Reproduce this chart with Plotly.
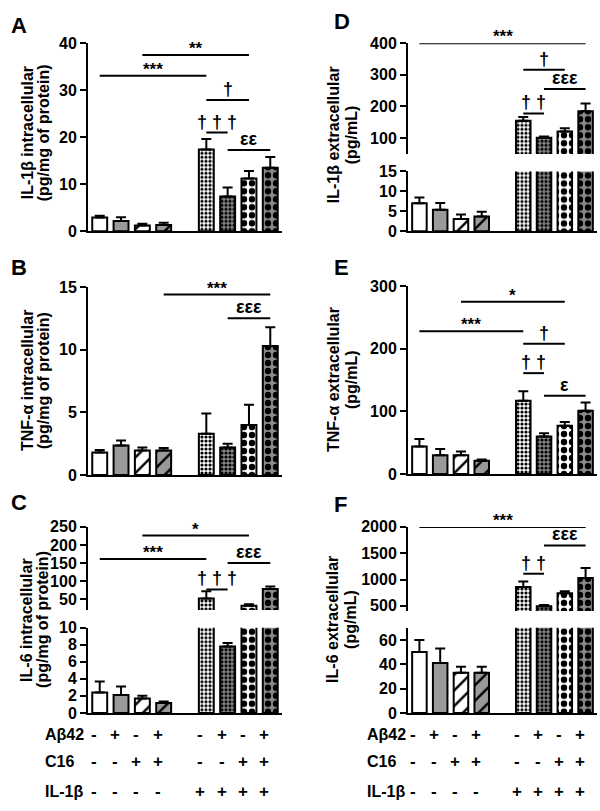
import plotly.graph_objects as go

W, H = 600, 811
FONT = "Liberation Sans, Arial, sans-serif"

# ---------------- data ----------------
positions = [0, 1, 2, 3, 5, 6, 7, 8]

A_mean = [2.9, 2.2, 1.2, 1.3, 17.4, 7.4, 11.2, 13.5]
A_err = [0.4, 0.8, 0.4, 0.5, 2.2, 1.9, 1.6, 2.3]
D_mean = [7.0, 5.4, 3.1, 3.7, 155, 101, 121, 185]
D_err = [1.5, 1.7, 1.1, 1.2, 12, 4, 10, 24]
B_mean = [1.8, 2.35, 1.95, 1.95, 3.3, 2.2, 4.0, 10.3]
B_err = [0.2, 0.4, 0.25, 0.2, 1.6, 0.3, 1.6, 1.5]
E_mean = [44, 30, 30, 21, 117, 60, 77, 101]
E_err = [12, 10, 6, 2, 15, 5, 6, 13]
C_mean = [2.4, 2.1, 1.7, 1.15, 52, 7.8, 32, 78]
C_err = [1.3, 1.0, 0.3, 0.2, 20, 0.4, 4, 7]
F_mean = [50, 41, 33, 33, 860, 490, 740, 1030]
F_err = [10, 12, 5, 5, 100, 25, 35, 190]

# significance brackets: (from bar index, to bar index, y value, label)
A_sig = [(0, 4, 33.1, "***"), (2, 6, 37.5, "**"), (4, 6, 27.9, "†"),
         (4, 5, 21.0, "† † †"), (5, 7, 17.3, "εε")]
D_sig = [(0, 7, 400, "***"), (4, 6, 316, "†"), (5, 7, 255, "εεε"), (4, 5, 178, "† †")]
B_sig = [(3, 7, 14.4, "***"), (5, 7, 12.5, "εεε")]
E_sig = [(2, 6, 275, "*"), (0, 4, 228, "***"), (4, 6, 208, "†"),
         (4, 5, 161, "† †"), (5, 7, 125, "ε")]
C_sig = [(2, 6, 226, "*"), (0, 4, 161, "***"), (5, 7, 150, "εεε"), (4, 5, 77, "† † †")]
F_sig = [(0, 7, 2000, "***"), (5, 7, 1648, "εεε"), (4, 5, 1110, "† †")]

row_labels = ["Aβ42", "C16", "IL-1β"]
Ab_signs = ["-", "+", "-", "+", "-", "+", "-", "+"]
C16_signs = ["-", "-", "+", "+", "-", "-", "+", "+"]
IL1b_signs = ["-", "-", "-", "-", "+", "+", "+", "+"]

# ---------------- styles ----------------
GRAY = "#9a9a9a"
bar_colors = ["white", GRAY, "white", GRAY, "white", "#8a8a8a", "white", "#8a8a8a"]
pat_shapes = ["", "", "/", "/", ".", ".", ".", "."]
pat_size = [8, 8, 11, 11, 4, 4, 8, 8]
pat_sol = [0.3, 0.3, 0.22, 0.22, 0.5, 0.5, 0.5, 0.5]


def fx(px):
    return px / W


def fy(py):
    return 1 - py / H


fig = go.Figure()
layout = dict(width=W, height=H, margin=dict(l=0, r=0, t=0, b=0),
              paper_bgcolor="white", plot_bgcolor="white", showlegend=False,
              barmode="overlay")
annotations = []
shapes = []
XR = [-0.55, 8.55]


def axname(n, kind):
    return kind + ("axis" if n == 1 else f"axis{n}")


def ref(n, kind):
    return kind + ("" if n == 1 else str(n))


def add_axes(n, xl, xr, ytop, ybot, yrange, tickvals, show_xline=True):
    layout[axname(n, "x")] = dict(
        domain=[fx(xl), fx(xr)], range=XR, anchor=ref(n, "y"),
        showline=show_xline, linewidth=2, linecolor="black", ticks="",
        showticklabels=False, showgrid=False, zeroline=False)
    layout[axname(n, "y")] = dict(
        domain=[fy(ybot), fy(ytop)], range=yrange, anchor=ref(n, "x"),
        showline=True, linewidth=2, linecolor="black", ticks="outside",
        ticklen=6, tickwidth=2, tickcolor="black", tickvals=tickvals,
        tickfont=dict(family=FONT, size=16, color="black", weight="bold"),
        showgrid=False, zeroline=False)


def add_bars(n, means, errs):
    for i, p in enumerate(positions):
        marker = dict(color=bar_colors[i], line=dict(color="black", width=2))
        if pat_shapes[i]:
            marker["pattern"] = dict(shape=pat_shapes[i], fgcolor="black",
                                     bgcolor=bar_colors[i], size=pat_size[i],
                                     solidity=pat_sol[i], fillmode="replace")
        fig.add_trace(go.Bar(
            x=[p], y=[means[i]], width=0.7,
            xaxis=ref(n, "x"), yaxis=ref(n, "y"), marker=marker,
            error_y=dict(type="data", symmetric=False, array=[errs[i]],
                         arrayminus=[0], color="black", thickness=2, width=5),
            showlegend=False, cliponaxis=True))


def add_sig(n, sigs):
    for i0, i1, yv, lab in sigs:
        x0, x1 = positions[i0], positions[i1]
        shapes.append(dict(type="line", xref=ref(n, "x"), yref=ref(n, "y"),
                           x0=x0, x1=x1, y0=yv, y1=yv,
                           line=dict(color="black", width=2)))
        star = lab.startswith("*")
        annotations.append(dict(
            x=(x0 + x1) / 2, y=yv, xref=ref(n, "x"), yref=ref(n, "y"),
            text=lab, showarrow=False, xanchor="center", yanchor="bottom",
            yshift=-5 if star else -1,
            font=dict(family=FONT, size=17 if star else 18, color="black",
                      weight="bold")))


def add_title(xc1, xc2, yc, line1, line2):
    for xc, t in ((xc1, line1), (xc2, line2)):
        annotations.append(dict(
            x=fx(xc), y=fy(yc), xref="paper", yref="paper", text=t,
            textangle=-90, showarrow=False, xanchor="center", yanchor="middle",
            font=dict(family=FONT, size=16, color="black", weight="bold")))


def add_letter(x, y, t):
    annotations.append(dict(
        x=fx(x), y=fy(y), xref="paper", yref="paper", text=t, showarrow=False,
        xanchor="left", yanchor="top",
        font=dict(family=FONT, size=22, color="black", weight="bold")))


def add_table(n, label_x):
    rows = [(742, row_labels[0], Ab_signs), (770, row_labels[1], C16_signs),
            (800, row_labels[2], IL1b_signs)]
    for ypx, lab, signs in rows:
        annotations.append(dict(
            x=fx(label_x), y=fy(ypx), xref="paper", yref="paper", text=lab,
            showarrow=False, xanchor="left", yanchor="middle",
            font=dict(family=FONT, size=16, color="black", weight="bold")))
        for p, s in zip(positions, signs):
            annotations.append(dict(
                x=p, y=fy(ypx), xref=ref(n, "x"), yref="paper", text=s,
                showarrow=False, xanchor="center", yanchor="middle", xshift=-6,
                font=dict(family=FONT, size=17, color="black", weight="bold")))


LX = (88, 282)
RX = (408, 597)

# Panel A
add_axes(1, *LX, 36, 228, [0, 40], [0, 10, 20, 30, 40])
add_bars(1, A_mean, A_err)
add_sig(1, A_sig)

# Panel D (broken axis)
add_axes(2, *RX, 36, 149, [50, 400], [100, 200, 300, 400], show_xline=False)
add_axes(3, *RX, 167, 228, [0, 15], [0, 5, 10, 15])
add_bars(2, D_mean, D_err)
add_bars(3, D_mean, D_err)
add_sig(2, D_sig)

# Panel B
add_axes(4, *LX, 285, 477, [0, 15], [0, 5, 10, 15])
add_bars(4, B_mean, B_err)
add_sig(4, B_sig)

# Panel E
add_axes(5, *RX, 284, 476, [0, 300], [0, 100, 200, 300])
add_bars(5, E_mean, E_err)
add_sig(5, E_sig)

# Panel C (broken axis)
add_axes(6, *LX, 530, 615, [20, 250], [50, 100, 150, 200, 250], show_xline=False)
add_axes(7, *LX, 633, 720, [0, 10], [0, 2, 4, 6, 8, 10])
add_bars(6, C_mean, C_err)
add_bars(7, C_mean, C_err)
add_sig(6, C_sig)

# Panel F (broken axis)
add_axes(8, *RX, 530, 616, [400, 2000], [500, 1000, 1500, 2000], show_xline=False)
add_axes(9, *RX, 633, 720, [0, 70], [0, 20, 40, 60])
add_bars(8, F_mean, F_err)
add_bars(9, F_mean, F_err)
add_sig(8, F_sig)

# axis titles
add_title(27, 43, 128, "IL-1β intracellular", "(pg/mg of protein)")
add_title(333, 351, 130, "IL-1β extracellular", "(pg/mL)")
add_title(27, 43, 381, "TNF-α intracellular", "(pg/mg of protein)")
add_title(333, 351, 380, "TNF-α extracellular", "(pg/mL)")
add_title(27, 43, 625, "IL-6 intracellular", "(pg/mg of protein)")
add_title(333, 351, 625, "IL-6 extracellular", "(pg/mL)")

# panel letters
add_letter(9, 3, "A")
add_letter(9, 250, "B")
add_letter(9, 490, "C")
add_letter(332, -1, "D")
add_letter(332, 250, "E")
add_letter(332, 492, "F")

# treatment table
add_table(7, 43)
add_table(9, 365)

layout["annotations"] = annotations
layout["shapes"] = shapes
fig.update_layout(**layout)
fig.write_html(
    "out.html",
    config={"displayModeBar": False},
    post_script=("document.documentElement.style.margin='0';"
                 "document.body.style.margin='0';"
                 "document.body.style.padding='0';"
                 "document.body.style.overflow='hidden';"
                 "var d=document.getElementById('{plot_id}');"
                 "d.style.position='absolute';d.style.left='0px';d.style.top='0px';"))
